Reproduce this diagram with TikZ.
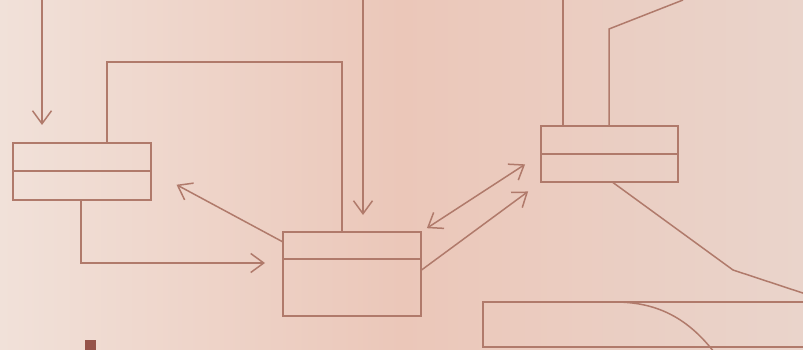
\documentclass[tikz,border=0pt]{standalone}
\usepackage{tikz}
\usetikzlibrary{calc, positioning, arrows.meta}
\definecolor{inkline}{RGB}{176, 122, 107}
\definecolor{paperL}{RGB}{241, 225, 217}
\definecolor{paperM}{RGB}{235, 199, 185}
\definecolor{paperR}{RGB}{234, 212, 203}
\definecolor{inkmark}{RGB}{150, 84, 74}

\begin{document}
\begin{tikzpicture}[x=1pt, y=-1pt,
  link/.style={draw=inkline, line width=1.5pt},
  arr/.style={link, -{Straight Barb[length=13pt, width=19pt]}},
  arrs/.style={link, {Straight Barb[length=13pt, width=19pt]}-{Straight Barb[length=13pt, width=19pt]}},
  cell/.style={link, rectangle, inner sep=0pt, outer sep=0pt, anchor=north west, minimum width=138pt},
]
  \useasboundingbox (0,0) rectangle (803,350);
  \shade[left color=paperL, right color=paperR, middle color=paperM] (0,0) rectangle (803,350);
  \clip (0,0) rectangle (803,350);

  \node[cell, minimum height=28pt] (aTop) at (13,143) {};
  \node[cell, minimum height=29pt, below=0pt of aTop] (aBot) {};
  \node[cell, minimum height=27pt] (bTop) at (283,232) {};
  \node[cell, minimum height=57pt, below=0pt of bTop] (bBot) {};
  \node[cell, minimum height=28pt, minimum width=137pt] (cTop) at (541,126) {};
  \node[cell, minimum height=28pt, minimum width=137pt, below=0pt of cTop] (cBot) {};
  \node[cell, minimum height=45pt, minimum width=360pt] (dBox) at (483,302) {};

  \coordinate (inA) at (42,0);
  \coordinate (inB) at (363,0);
  \coordinate (bendA) at (107,62);
  \coordinate (bendB) at (342,62);
  \coordinate (bendC) at (81,263);
  \coordinate (outC) at (563,0);
  \coordinate (bendD) at (609,29);
  \coordinate (outD) at (683,0);
  \coordinate (bendE) at (733,270);
  \coordinate (outE) at (830,302);

  \draw[arr, shorten >=18pt] (inA) -- (inA |- aTop.north);
  \draw[arr, shorten >=17pt] (inB) -- (inB |- bTop.north);
  \draw[link] (aTop.north -| bendA) -- (bendA) -- (bendB) -- (bendB |- bTop.north);
  \draw[arr, shorten >=18pt] (aBot.south -| bendC) -- (bendC) -- (bendC -| bBot.west);
  \draw[arr, shorten >=29pt] ($(bTop.north west)!0.37!(bTop.south west)$) -- (aTop.south east);
  \draw[arrs, shorten <=7pt, shorten >=19pt] (bTop.north east) -- (cTop.south west);
  \draw[arr, shorten >=16pt] ($(bBot.north east)!0.2!(bBot.south east)$) -- (cBot.south west);
  \draw[link] (cTop.north -| outC) -- (outC);
  \draw[link] (cTop.north -| bendD) -- (bendD) -- (outD);
  \draw[link] ($(cBot.south west)!0.52!(cBot.south east)$) -- (bendE) -- (outE);
  \draw[link] (615,302) .. controls (665,302) and (695,325) .. (720,360);

  \fill[inkmark] (85,340) rectangle (96,352);
\end{tikzpicture}
\end{document}
